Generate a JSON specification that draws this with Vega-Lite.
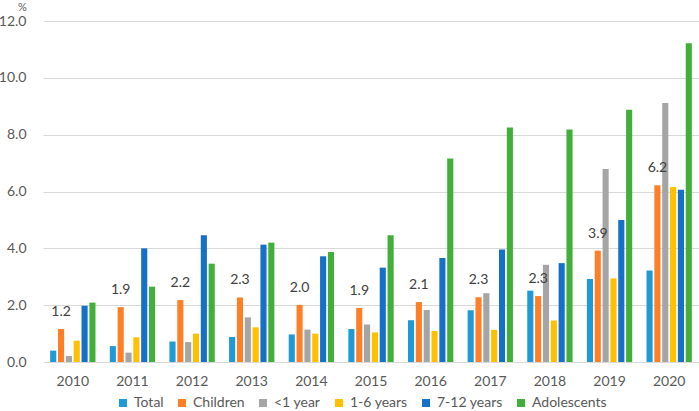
{
  "$schema": "https://vega.github.io/schema/vega-lite/v6.json",
  "width": 656,
  "height": 341,
  "autosize": {"type": "none"},
  "padding": {"left": 43, "top": 21, "right": 0, "bottom": 49},
  "background": "white",
  "data": {
    "values": [
      {"year": "2010", "group": "Total", "value": 0.40},
      {"year": "2010", "group": "Children", "value": 1.16},
      {"year": "2010", "group": "<1 year", "value": 0.21},
      {"year": "2010", "group": "1-6 years", "value": 0.75},
      {"year": "2010", "group": "7-12 years", "value": 1.98},
      {"year": "2010", "group": "Adolescents", "value": 2.09},
      {"year": "2011", "group": "Total", "value": 0.56},
      {"year": "2011", "group": "Children", "value": 1.93},
      {"year": "2011", "group": "<1 year", "value": 0.33},
      {"year": "2011", "group": "1-6 years", "value": 0.87},
      {"year": "2011", "group": "7-12 years", "value": 4.00},
      {"year": "2011", "group": "Adolescents", "value": 2.65},
      {"year": "2012", "group": "Total", "value": 0.72},
      {"year": "2012", "group": "Children", "value": 2.18},
      {"year": "2012", "group": "<1 year", "value": 0.70},
      {"year": "2012", "group": "1-6 years", "value": 1.00},
      {"year": "2012", "group": "7-12 years", "value": 4.46},
      {"year": "2012", "group": "Adolescents", "value": 3.46},
      {"year": "2013", "group": "Total", "value": 0.88},
      {"year": "2013", "group": "Children", "value": 2.27},
      {"year": "2013", "group": "<1 year", "value": 1.57},
      {"year": "2013", "group": "1-6 years", "value": 1.22},
      {"year": "2013", "group": "7-12 years", "value": 4.13},
      {"year": "2013", "group": "Adolescents", "value": 4.20},
      {"year": "2014", "group": "Total", "value": 0.97},
      {"year": "2014", "group": "Children", "value": 2.01},
      {"year": "2014", "group": "<1 year", "value": 1.14},
      {"year": "2014", "group": "1-6 years", "value": 1.00},
      {"year": "2014", "group": "7-12 years", "value": 3.72},
      {"year": "2014", "group": "Adolescents", "value": 3.87},
      {"year": "2015", "group": "Total", "value": 1.16},
      {"year": "2015", "group": "Children", "value": 1.90},
      {"year": "2015", "group": "<1 year", "value": 1.32},
      {"year": "2015", "group": "1-6 years", "value": 1.04},
      {"year": "2015", "group": "7-12 years", "value": 3.32},
      {"year": "2015", "group": "Adolescents", "value": 4.46},
      {"year": "2016", "group": "Total", "value": 1.47},
      {"year": "2016", "group": "Children", "value": 2.11},
      {"year": "2016", "group": "<1 year", "value": 1.83},
      {"year": "2016", "group": "1-6 years", "value": 1.09},
      {"year": "2016", "group": "7-12 years", "value": 3.66},
      {"year": "2016", "group": "Adolescents", "value": 7.16},
      {"year": "2017", "group": "Total", "value": 1.82},
      {"year": "2017", "group": "Children", "value": 2.28},
      {"year": "2017", "group": "<1 year", "value": 2.42},
      {"year": "2017", "group": "1-6 years", "value": 1.13},
      {"year": "2017", "group": "7-12 years", "value": 3.96},
      {"year": "2017", "group": "Adolescents", "value": 8.25},
      {"year": "2018", "group": "Total", "value": 2.51},
      {"year": "2018", "group": "Children", "value": 2.32},
      {"year": "2018", "group": "<1 year", "value": 3.42},
      {"year": "2018", "group": "1-6 years", "value": 1.46},
      {"year": "2018", "group": "7-12 years", "value": 3.48},
      {"year": "2018", "group": "Adolescents", "value": 8.18},
      {"year": "2019", "group": "Total", "value": 2.92},
      {"year": "2019", "group": "Children", "value": 3.92},
      {"year": "2019", "group": "<1 year", "value": 6.79},
      {"year": "2019", "group": "1-6 years", "value": 2.94},
      {"year": "2019", "group": "7-12 years", "value": 5.00},
      {"year": "2019", "group": "Adolescents", "value": 8.88},
      {"year": "2020", "group": "Total", "value": 3.22},
      {"year": "2020", "group": "Children", "value": 6.22},
      {"year": "2020", "group": "<1 year", "value": 9.11},
      {"year": "2020", "group": "1-6 years", "value": 6.16},
      {"year": "2020", "group": "7-12 years", "value": 6.06},
      {"year": "2020", "group": "Adolescents", "value": 11.22}
    ]
  },
  "encoding": {
    "x": {
      "field": "year",
      "type": "nominal",
      "scale": {"paddingInner": 0.24, "paddingOuter": 0.12},
      "axis": {
        "title": null,
        "labelAngle": 0,
        "ticks": false,
        "domain": false,
        "labelFontSize": 14,
        "labelColor": "#595959",
        "labelPadding": 12
      }
    },
    "xOffset": {
      "field": "group",
      "type": "nominal",
      "scale": {
        "domain": ["Total", "Children", "<1 year", "1-6 years", "7-12 years", "Adolescents"],
        "paddingInner": 0.22
      }
    },
    "y": {
      "field": "value",
      "type": "quantitative",
      "scale": {"domain": [0, 12]},
      "axis": {
        "title": "%",
        "titleAngle": 0,
        "titleX": -21,
        "titleY": -20,
        "titleAlign": "center",
        "titleBaseline": "top",
        "titleFontSize": 11,
        "titleFontWeight": "normal",
        "titleColor": "#595959",
        "values": [0, 2, 4, 6, 8, 10, 12],
        "format": ".1f",
        "ticks": false,
        "domain": false,
        "labelPadding": 17,
        "labelFontSize": 14,
        "labelColor": "#595959",
        "gridColor": "#D9D9D9",
        "gridWidth": 1
      }
    }
  },
  "layer": [
    {
      "mark": {"type": "bar"},
      "encoding": {
        "color": {
          "field": "group",
          "type": "nominal",
          "scale": {
            "domain": ["Total", "Children", "<1 year", "1-6 years", "7-12 years", "Adolescents"],
            "range": ["#1E9AD6", "#FF7F27", "#A5A5A5", "#FFC000", "#1570C8", "#41AF3A"]
          },
          "legend": {
            "title": null,
            "orient": "none",
            "direction": "horizontal",
            "legendX": 73,
            "legendY": 375,
            "symbolType": "square",
            "symbolSize": 64,
            "symbolStrokeWidth": 0,
            "labelFontSize": 14,
            "labelColor": "#595959",
            "labelOffset": 4,
            "columnPadding": 11
          }
        }
      }
    },
    {
      "transform": [{"filter": "datum.group === 'Children'"}],
      "mark": {"type": "text", "dy": -17, "fontSize": 14, "color": "#404040"},
      "encoding": {
        "text": {"field": "value", "type": "quantitative", "format": ".1f"}
      }
    }
  ],
  "config": {
    "font": "Lato",
    "view": {"stroke": null}
  }
}
